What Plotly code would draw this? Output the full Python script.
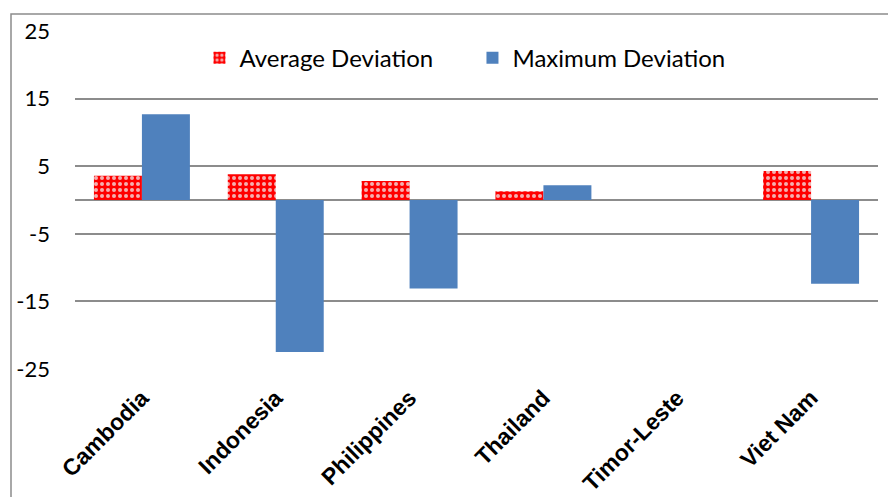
import plotly.graph_objects as go

countries = ["Cambodia", "Indonesia", "Philippines", "Thailand", "Timor-Leste", "Viet Nam"]
average_deviation = [3.6, 3.8, 2.8, 1.3, None, 4.3]
maximum_deviation = [12.7, -22.5, -13.1, 2.2, None, -12.4]
y_ticks = [25, 15, 5, -5, -15, -25]

grid_color = "#8c8c8c"
label_font = "Lato, Calibri, sans-serif"

fig = go.Figure()
fig.add_trace(go.Bar(
    x=countries, y=average_deviation, name="Average Deviation",
    marker=dict(
        color="#ff0000",
        line=dict(width=0),
        pattern=dict(shape=".", bgcolor="#ff0000", fgcolor="#f4b0b0",
                     size=6, solidity=0.35, fillmode="replace"),
    ),
))
fig.add_trace(go.Bar(
    x=countries, y=maximum_deviation, name="Maximum Deviation",
    marker=dict(color="#4f81bd", line=dict(width=0)),
))

# outer chart frame
fig.add_shape(type="rect", xref="paper", yref="paper",
              x0=-0.0797, x1=1.05, y0=-0.45, y1=1.0503,
              line=dict(color=grid_color, width=1.5), fillcolor="rgba(0,0,0,0)")

fig.update_layout(
    width=888, height=497,
    margin=dict(l=75, r=10, t=31, b=128, autoexpand=False),
    paper_bgcolor="white", plot_bgcolor="white",
    barmode="group", bargap=0.283, bargroupgap=0,
    showlegend=True,
    legend=dict(orientation="h", x=0.155, y=0.92, xanchor="left", yanchor="middle",
                font=dict(family=label_font, size=24, color="black"),
                entrywidth=228, bgcolor="rgba(0,0,0,0)"),
    xaxis=dict(
        tickangle=-45, showgrid=False, showline=False, ticks="",
        ticklabelstandoff=10, automargin=False,
        tickfont=dict(family="Liberation Sans, Arial, sans-serif", size=23,
                      color="black", weight="bold"),
    ),
    yaxis=dict(
        range=[-25, 25], tickvals=y_ticks, ticktext=[str(v) for v in y_ticks],
        showgrid=True, gridcolor=grid_color, gridwidth=1.5,
        zeroline=True, zerolinecolor=grid_color, zerolinewidth=1.5,
        showline=False, ticks="", ticklabelstandoff=24, automargin=False,
        tickfont=dict(family=label_font, size=22, color="black"),
    ),
)

fig.write_html("out.html")
